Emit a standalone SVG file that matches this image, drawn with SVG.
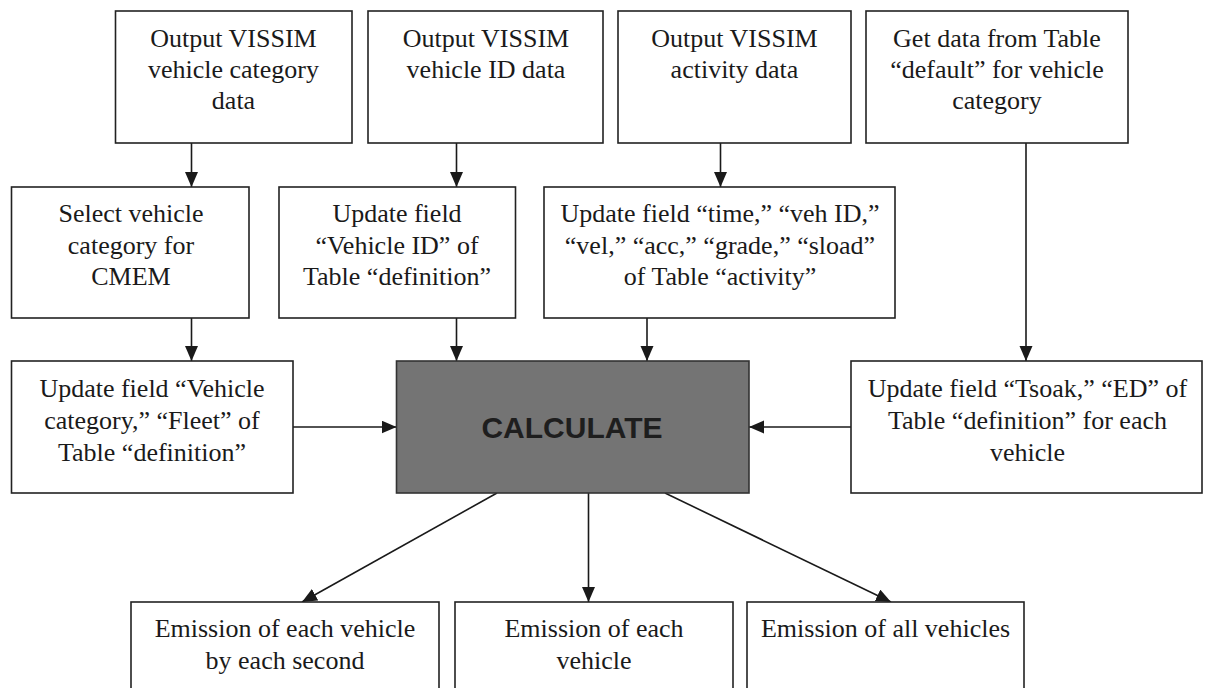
<svg xmlns="http://www.w3.org/2000/svg" width="1206" height="688" viewBox="0 0 1206 688">
<style>
.box{fill:#fff;stroke:#222;stroke-width:1.6}
.calc{fill:#747474;stroke:#333;stroke-width:1.6}
.t{font-family:"Liberation Serif","Times New Roman",serif;font-size:26px;fill:#1a1a1a;text-anchor:middle}
.ct{font-family:"Liberation Sans",Arial,sans-serif;font-size:30px;font-weight:bold;fill:#1e1e1e;text-anchor:middle}
.c{stroke:#1a1a1a;stroke-width:1.6;fill:none;marker-end:url(#ah)}
</style>
<defs>
<marker id="ah" markerUnits="userSpaceOnUse" markerWidth="16" markerHeight="14" refX="15" refY="6.5" orient="auto">
<path d="M0,0 L15,6.5 L0,13 z" fill="#1a1a1a"/>
</marker>
</defs>
<rect width="1206" height="688" fill="#fff"/>
<g id="connectors">
<line class="c" x1="191.5" y1="143" x2="191.5" y2="187"/>
<line class="c" x1="456.5" y1="143" x2="456.5" y2="187"/>
<line class="c" x1="720.5" y1="143" x2="720.5" y2="187"/>
<line class="c" x1="1026" y1="143" x2="1026" y2="361"/>
<line class="c" x1="191.5" y1="318" x2="191.5" y2="361"/>
<line class="c" x1="456.5" y1="318" x2="456.5" y2="361"/>
<line class="c" x1="647" y1="318" x2="647" y2="361"/>
<line class="c" x1="293" y1="427" x2="396.5" y2="427"/>
<line class="c" x1="851" y1="427" x2="749" y2="427"/>
<line class="c" x1="497" y1="493" x2="302" y2="602"/>
<line class="c" x1="588.5" y1="493" x2="588.5" y2="602"/>
<line class="c" x1="665" y1="493" x2="891" y2="602"/>
</g>
<g id="n1"><rect class="box" x="115.5" y="11" width="236.5" height="132"/>
<text class="t" x="233.5" y="47">Output VISSIM</text><text class="t" x="233.5" y="78">vehicle category</text><text class="t" x="233.5" y="109">data</text></g>
<g id="n2"><rect class="box" x="368" y="11" width="235" height="132"/>
<text class="t" x="486" y="47">Output VISSIM</text><text class="t" x="486" y="78">vehicle ID data</text></g>
<g id="n3"><rect class="box" x="618" y="11" width="233" height="132"/>
<text class="t" x="734.5" y="47">Output VISSIM</text><text class="t" x="734.5" y="78">activity data</text></g>
<g id="n4"><rect class="box" x="866" y="11" width="262" height="132"/>
<text class="t" x="997" y="47">Get data from Table</text><text class="t" x="997" y="78">“default” for vehicle</text><text class="t" x="997" y="109">category</text></g>
<g id="n5"><rect class="box" x="11.5" y="187" width="237.5" height="131"/>
<text class="t" x="131" y="222">Select vehicle</text><text class="t" x="131" y="254">category for</text><text class="t" x="131" y="285">CMEM</text></g>
<g id="n6"><rect class="box" x="279" y="187" width="236.5" height="131"/>
<text class="t" x="397" y="222">Update field</text><text class="t" x="397" y="254">“Vehicle ID” of</text><text class="t" x="397" y="285">Table “definition”</text></g>
<g id="n7"><rect class="box" x="544" y="187" width="351" height="131"/>
<text class="t" x="720" y="222">Update field “time,” “veh ID,”</text><text class="t" x="720" y="254">“vel,” “acc,” “grade,” “sload”</text><text class="t" x="720" y="285">of Table “activity”</text></g>
<g id="n8"><rect class="box" x="11.5" y="361" width="281.5" height="132"/>
<text class="t" x="152" y="397">Update field “Vehicle</text><text class="t" x="152" y="429">category,” “Fleet” of</text><text class="t" x="152" y="461">Table “definition”</text></g>
<g id="n9"><rect class="calc" x="396.5" y="361" width="352.5" height="132"/>
<text class="ct" x="572" y="438">CALCULATE</text></g>
<g id="n10"><rect class="box" x="851" y="361" width="351" height="132"/>
<text class="t" x="1027.5" y="397">Update field “Tsoak,” “ED” of</text><text class="t" x="1027.5" y="429">Table “definition” for each</text><text class="t" x="1027.5" y="461">vehicle</text></g>
<g id="n11"><rect class="box" x="131" y="602" width="308" height="110"/>
<text class="t" x="285" y="637">Emission of each vehicle</text><text class="t" x="285" y="669">by each second</text></g>
<g id="n12"><rect class="box" x="455" y="602" width="278" height="110"/>
<text class="t" x="594" y="637">Emission of each</text><text class="t" x="594" y="669">vehicle</text></g>
<g id="n13"><rect class="box" x="747" y="602" width="277" height="110"/>
<text class="t" x="885.5" y="637">Emission of all vehicles</text></g>
</svg>
